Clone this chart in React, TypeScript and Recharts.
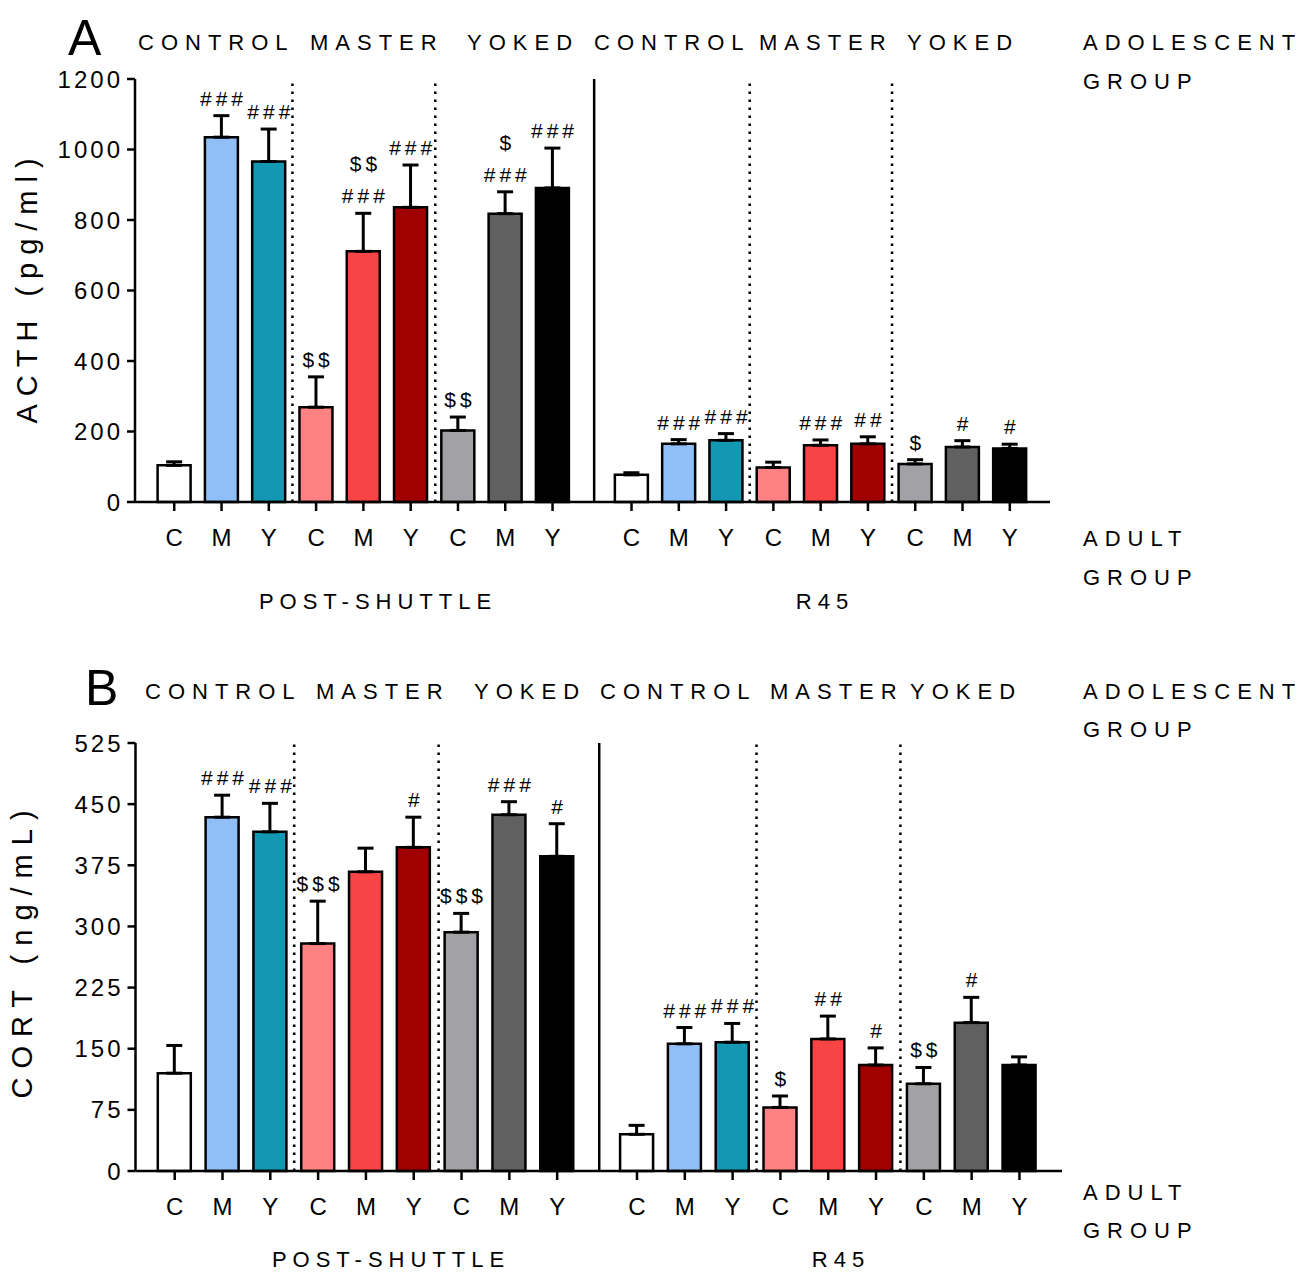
import React from "react";
import {
  ComposedChart,
  Bar,
  Cell,
  ErrorBar,
  Line,
  XAxis,
  YAxis,
  ReferenceLine,
} from "recharts";

// x slots: post-shuttle block (C M Y x3), then R45 block
const positions = [
  1, 2, 3, 4, 5, 6, 7, 8, 9, 10.67, 11.67, 12.67, 13.67, 14.67, 15.67, 16.67, 17.67, 18.67,
];
const slotLabels = [
  "C", "M", "Y", "C", "M", "Y", "C", "M", "Y",
  "C", "M", "Y", "C", "M", "Y", "C", "M", "Y",
];
const groupColors = [
  "#ffffff", "#90bff8", "#1398b3",
  "#ff8282", "#f84444", "#a00000",
  "#a2a2a6", "#606060", "#000000",
];

const acthMeans = [104, 1035, 966, 269, 711, 836, 203, 818, 891, 77, 165, 175, 98, 161, 165, 108, 156, 152];
const acthSem = [10, 61, 92, 86, 108, 120, 38, 62, 113, 6, 12, 19, 15, 15, 20, 12, 18, 12];
const acthNotes = [
  "", "###", "###", "$$", "$$\n###", "###", "$$", "$\n###", "###",
  "", "###", "###", "", "###", "##", "$", "#", "#",
];
const acthTicks = [0, 200, 400, 600, 800, 1000, 1200];

const cortMeans = [120, 434, 416, 279, 367, 397, 293, 437, 386, 45, 156, 158, 78, 162, 130, 107, 182, 130];
const cortSem = [34, 27, 35, 52, 29, 37, 23, 16, 40, 11, 20, 23, 14, 28, 21, 20, 31, 10];
const cortNotes = [
  "", "###", "###", "$$$", "", "#", "$$$", "###", "#",
  "", "###", "###", "$", "##", "#", "$$", "#", "",
];
const cortTicks = [0, 75, 150, 225, 300, 375, 450, 525];

const conditionWords = ["CONTROL", "MASTER", "YOKED", "CONTROL", "MASTER", "YOKED"];

const FONT = "'Liberation Sans', Arial, Helvetica, sans-serif";

const renderNote = (props: any) => {
  const { cx, cy, payload, index } = props;
  const lines: string[] = payload.note ? payload.note.split("\n").reverse() : [];
  return (
    <g key={`note-${index}`}>
      {lines.map((t, k) => (
        <text
          key={k}
          x={cx + 2}
          y={cy - 10 - k * 32}
          textAnchor="middle"
          fontFamily={FONT}
          fontSize={21}
          letterSpacing={4}
          fill="#000"
        >
          {t}
        </text>
      ))}
    </g>
  );
};

interface PanelProps {
  means: number[];
  sems: number[];
  notes: string[];
  yTicks: number[];
  xDomain: [number, number];
  top: number;
  height: number;
  margin: { top: number; right: number; bottom: number; left: number };
}

function Panel({ means, sems, notes, yTicks, xDomain, top, height, margin }: PanelProps) {
  const rows = positions.map((pos, i) => ({
    pos,
    mean: means[i],
    err: [0, sems[i]],
    top: means[i] + sems[i],
    note: notes[i],
  }));

  return (
    <div style={{ position: "absolute", left: 0, top }}>
      <ComposedChart width={1315} height={height} data={rows} margin={margin}>
        <XAxis
          type="number"
          dataKey="pos"
          domain={xDomain}
          allowDataOverflow
          ticks={positions}
          interval={0}
          tickFormatter={(v: number) => slotLabels[positions.indexOf(v)] ?? ""}
          height={40}
          tickSize={9}
          tickMargin={18}
          axisLine={{ stroke: "#000", strokeWidth: 2.5 }}
          tickLine={{ stroke: "#000", strokeWidth: 2.5 }}
          tick={{ fill: "#000", fontSize: 24, fontFamily: FONT }}
        />
        <YAxis
          type="number"
          domain={[yTicks[0], yTicks[yTicks.length - 1]]}
          ticks={yTicks}
          interval={0}
          width={60}
          tickSize={8}
          tickMargin={4}
          axisLine={{ stroke: "#000", strokeWidth: 2.5 }}
          tickLine={{ stroke: "#000", strokeWidth: 2.5 }}
          tick={{ fill: "#000", fontSize: 24, fontFamily: FONT, letterSpacing: 3 }}
        />
        <ReferenceLine x={3.5} stroke="#000" strokeWidth={2.5} strokeDasharray="2.5 5.5" />
        <ReferenceLine x={6.52} stroke="#000" strokeWidth={2.5} strokeDasharray="2.5 5.5" />
        <ReferenceLine x={9.88} stroke="#000" strokeWidth={2.5} />
        <ReferenceLine x={13.17} stroke="#000" strokeWidth={2.5} strokeDasharray="2.5 5.5" />
        <ReferenceLine x={16.18} stroke="#000" strokeWidth={2.5} strokeDasharray="2.5 5.5" />
        <Bar dataKey="mean" barSize={33} stroke="#000" strokeWidth={2.5} isAnimationActive={false}>
          {rows.map((r, i) => (
            <Cell key={i} fill={groupColors[i % 9]} />
          ))}
          <ErrorBar dataKey="err" direction="y" width={8} stroke="#000" strokeWidth={3} />
        </Bar>
        <Line
          dataKey="top"
          stroke="none"
          dot={renderNote}
          activeDot={false}
          legendType="none"
          isAnimationActive={false}
        />
      </ComposedChart>
    </div>
  );
}

function Labels() {
  const t = { fontFamily: FONT, fill: "#000" };
  const headA = [138, 310, 467, 594, 759, 907];
  const headB = [145, 316, 474, 600, 770, 910];
  return (
    <svg
      width={1315}
      height={1273}
      style={{ position: "absolute", left: 0, top: 0, pointerEvents: "none" }}
    >
      {/* panel A */}
      <text {...t} x={68} y={55} fontSize={50}>A</text>
      {conditionWords.map((w, i) => (
        <text key={`ha${i}`} {...t} x={headA[i]} y={50} fontSize={22} letterSpacing={7}>{w}</text>
      ))}
      <text {...t} x={1083} y={50} fontSize={22} letterSpacing={7}>ADOLESCENT</text>
      <text {...t} x={1083} y={89} fontSize={22} letterSpacing={7}>GROUP</text>
      <text {...t} x={1083} y={546} fontSize={22} letterSpacing={7}>ADULT</text>
      <text {...t} x={1083} y={585} fontSize={22} letterSpacing={7}>GROUP</text>
      <text {...t} x={378} y={609} fontSize={22} letterSpacing={6} textAnchor="middle">POST-SHUTTLE</text>
      <text {...t} x={825} y={609} fontSize={22} letterSpacing={6} textAnchor="middle">R45</text>
      <text
        {...t}
        x={0}
        y={0}
        fontSize={29}
        letterSpacing={8}
        textAnchor="middle"
        dy="0.35em"
        transform="translate(27,287) rotate(-90)"
      >
        ACTH (pg/ml)
      </text>

      {/* panel B */}
      <text {...t} x={85} y={705} fontSize={50}>B</text>
      {conditionWords.map((w, i) => (
        <text key={`hb${i}`} {...t} x={headB[i]} y={699} fontSize={22} letterSpacing={7}>{w}</text>
      ))}
      <text {...t} x={1083} y={699} fontSize={22} letterSpacing={7}>ADOLESCENT</text>
      <text {...t} x={1083} y={737} fontSize={22} letterSpacing={7}>GROUP</text>
      <text {...t} x={1083} y={1200} fontSize={22} letterSpacing={7}>ADULT</text>
      <text {...t} x={1083} y={1238} fontSize={22} letterSpacing={7}>GROUP</text>
      <text {...t} x={391} y={1267} fontSize={22} letterSpacing={6} textAnchor="middle">POST-SHUTTLE</text>
      <text {...t} x={841} y={1267} fontSize={22} letterSpacing={6} textAnchor="middle">R45</text>
      <text
        {...t}
        x={0}
        y={0}
        fontSize={29}
        letterSpacing={9}
        textAnchor="middle"
        dy="0.35em"
        transform="translate(22,950) rotate(-90)"
      >
        CORT (ng/mL)
      </text>
    </svg>
  );
}

export default function App() {
  return (
    <div style={{ position: "absolute", left: 0, top: 0, width: 1315, height: 1273, background: "#fff" }}>
      <Panel
        means={acthMeans}
        sems={acthSem}
        notes={acthNotes}
        yTicks={acthTicks}
        xDomain={[0.17, 19.52]}
        top={0}
        height={640}
        margin={{ top: 79, right: 265, bottom: 98, left: 75 }}
      />
      <Panel
        means={cortMeans}
        sems={cortSem}
        notes={cortNotes}
        yTicks={cortTicks}
        xDomain={[0.18, 19.56]}
        top={640}
        height={633}
        margin={{ top: 103, right: 253, bottom: 62, left: 75.5 }}
      />
      <Labels />
    </div>
  );
}
